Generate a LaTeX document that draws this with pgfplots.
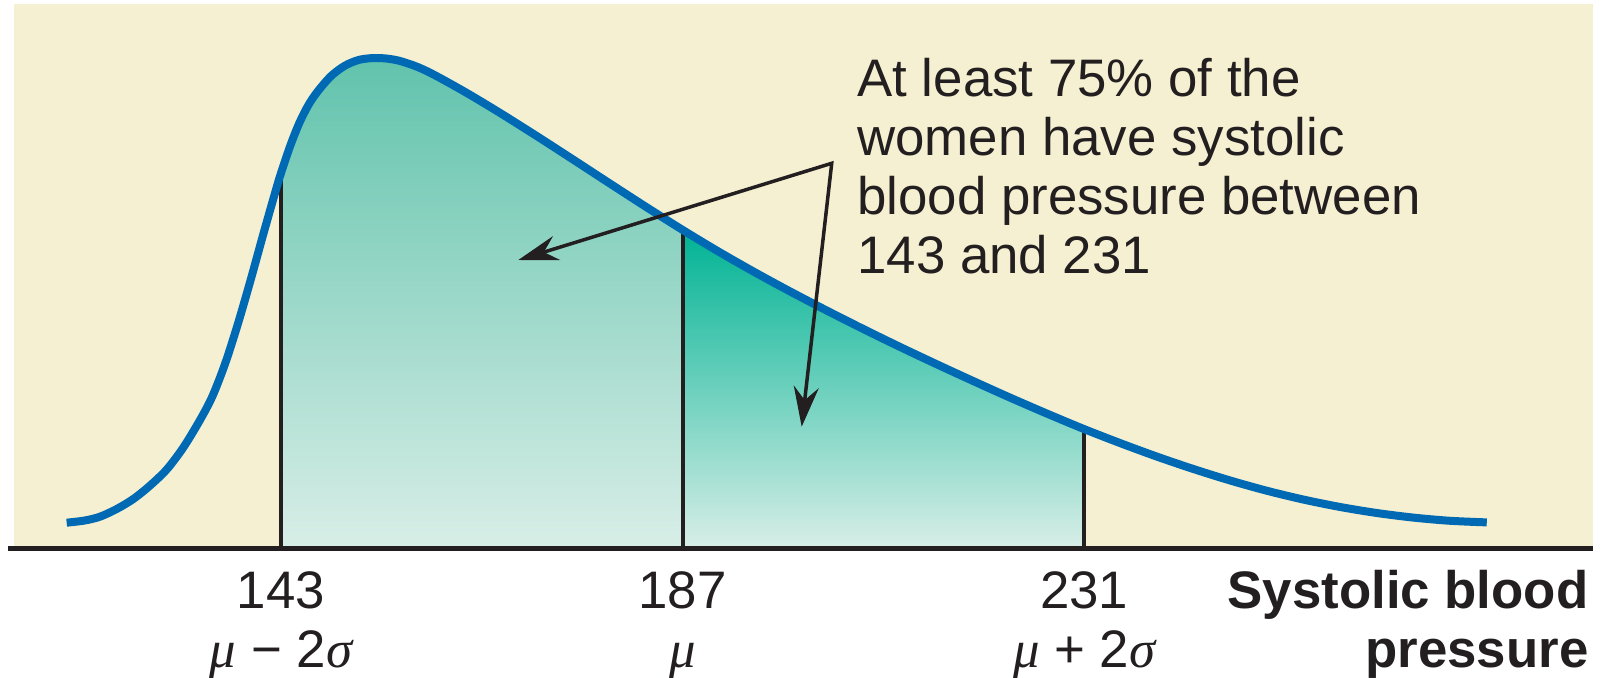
\documentclass[border=0pt]{standalone}
\usepackage{pgfplots}
\pgfplotsset{compat=1.18}
\usepackage{pgfplotstable}
\usepackage{fontspec}
\setmainfont{Liberation Sans}
\newfontfamily\grk{Liberation Serif}
\usetikzlibrary{arrows.meta}
\definecolor{bg}{RGB}{245,240,209}
\definecolor{curveblue}{RGB}{0,105,180}
\definecolor{tealA}{RGB}{97,195,172}
\definecolor{tealB}{RGB}{0,179,148}
\definecolor{lightT}{RGB}{216,238,231}
\definecolor{ink}{RGB}{35,31,32}
\newcommand\lbl{\fontsize{15.84pt}{19pt}\selectfont}
\tikzset{lab/.style={font=\lbl, text=ink, inner sep=0pt},
         blab/.style={font=\lbl\bfseries, text=ink, inner sep=0pt}}

\pgfplotstableread{
x y
119.52 25.8
121.50 28.0
123.17 31.8
125.00 39.5
126.82 49.5
128.60 62.5
130.48 79.0
132.30 101.0
134.13 128.5
135.50 152.5
136.90 185.4
138.30 225.3
139.70 269.4
141.10 315.6
142.50 360.4
143.00 375.4
144.00 402.4
145.00 425.4
146.00 443.4
147.00 456.9
148.50 472.6
150.00 482.8
151.50 488.5
153.00 490.4
154.50 490.0
156.00 487.6
158.00 481.4
160.00 472.6
163.34 455.6
167.00 435.55
171.00 412.55
175.00 388.95
179.00 365.15
183.00 341.55
187.00 318.55
191.00 296.55
195.00 275.75
199.00 255.95
203.00 236.95
207.00 218.55
211.00 200.75
215.00 183.55
219.00 166.75
223.00 150.35
227.00 134.55
231.00 119.35
235.00 105.15
239.00 91.75
243.00 79.35
247.00 67.95
251.00 57.75
255.00 48.95
259.00 41.55
263.00 35.55
267.00 30.95
271.00 27.75
275.09 26.10
}\curve

\begin{document}
\begin{tikzpicture}
\begin{axis}[
  scale only axis,
  width=473.7pt, height=163.23pt,
  xmin=113.75, xmax=286.73,
  ymin=0, ymax=544.1,
  axis lines=none,
  xtick=\empty, ytick=\empty,
  clip=false,
]
% background
\fill[bg] (rel axis cs:0,0) rectangle (rel axis cs:1,1);
% shaded regions
\addplot[draw=none, top color=tealA, bottom color=lightT, smooth, tension=0.5,
  restrict x to domain=143:187] table[x=x,y=y]{\curve} \closedcycle;
\addplot[draw=none, top color=tealB, bottom color=lightT, smooth, tension=0.5,
  restrict x to domain=187:231] table[x=x,y=y]{\curve} \closedcycle;
% vertical lines
\addplot[ink, line width=1.2pt] coordinates {(143,0) (143,375.4)};
\addplot[ink, line width=1.2pt] coordinates {(187,0) (187,318.55)};
\addplot[ink, line width=1.2pt] coordinates {(231,0) (231,119.35)};
% curve
\addplot[curveblue, line width=2.4pt, smooth, tension=0.5] table[x=x,y=y]{\curve};
% axis line
\draw[ink, line width=1.4pt] ([xshift=-1.8pt]rel axis cs:0,0) -- (rel axis cs:1,0);
% arrows
\draw[ink, line width=1.05pt, line join=miter,
  {Stealth[length=12pt,width=7.5pt,inset=4pt]}-{Stealth[length=12pt,width=7.5pt,inset=4pt]}]
  (axis cs:169.0,288.5) -- (axis cs:203.33,385.2) -- (axis cs:200.04,121.8);
% annotation
\node[lab, anchor=base west] at (axis cs:206.07,451.5) {At least 75\% of the};
\node[lab, anchor=base west] at (axis cs:206.07,392.5) {women have systolic};
\node[lab, anchor=base west] at (axis cs:206.07,333.5) {blood pressure between};
\node[lab, anchor=base west] at (axis cs:206.07,274.5) {143 and 231};
% tick labels
\node[lab, anchor=base] at (axis cs:143,-59.5) {143};
\node[lab, anchor=base] at (axis cs:187,-59.5) {187};
\node[lab, anchor=base] at (axis cs:231,-59.5) {231};
\node[lab, anchor=base] at (axis cs:143,-118.5) {{\grk\itshape μ} − 2{\grk\itshape σ}};
\node[lab, anchor=base] at (axis cs:187,-118.5) {{\grk\itshape μ}};
\node[lab, anchor=base] at (axis cs:231,-118.5) {{\grk\itshape μ} + 2{\grk\itshape σ}};
% axis label
\node[blab, anchor=base east] at (axis cs:286.3,-59.5) {Systolic blood};
\node[blab, anchor=base east] at (axis cs:286.3,-118.5) {pressure};
\end{axis}
\pgfresetboundingbox
\useasboundingbox (-4.2pt,-38.55pt) rectangle (476.4pt,164.55pt);
\end{tikzpicture}
\end{document}
